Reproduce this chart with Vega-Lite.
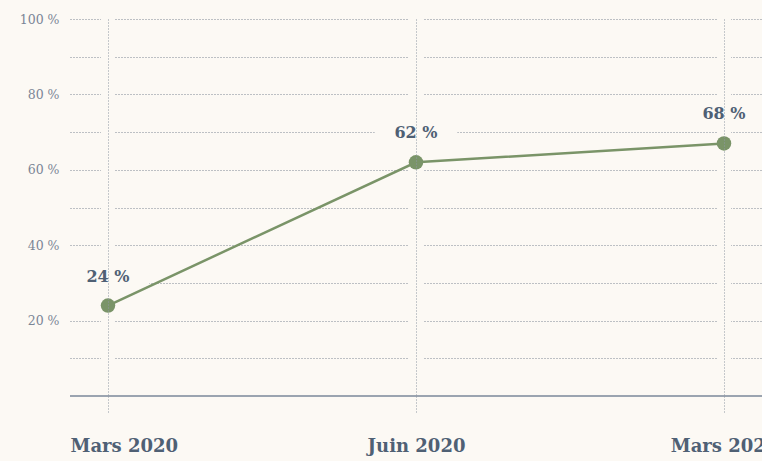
{
  "$schema": "https://vega.github.io/schema/vega-lite/v6.json",
  "width": 692,
  "height": 377,
  "autosize": {"type": "none"},
  "padding": {"left": 70, "top": 19, "right": 0, "bottom": 65},
  "background": "#fcf9f4",
  "config": {"view": {"stroke": null}},
  "data": {
    "values": [
      {"period": "Mars 2020", "value": 24, "label": "24 %"},
      {"period": "Juin 2020", "value": 62, "label": "62 %"},
      {"period": "Mars 2021", "value": 67, "label": "68 %"}
    ]
  },
  "encoding": {
    "x": {
      "field": "period",
      "type": "ordinal",
      "sort": null,
      "scale": {"type": "point", "padding": 0.1234},
      "axis": {
        "title": null,
        "labelAngle": 0,
        "domain": false,
        "grid": true,
        "gridColor": "#8e97a3",
        "gridDash": [1, 2],
        "gridWidth": 1,
        "ticks": true,
        "tickSize": 16,
        "tickColor": "#8e97a3",
        "tickDash": [1, 2],
        "tickWidth": 1,
        "zindex": 1,
        "labelFont": "DejaVu Serif",
        "labelFontWeight": "bold",
        "labelFontSize": 18,
        "labelColor": "#4f6074",
        "labelPadding": 25,
        "labelAlign": {"condition": {"test": "datum.value == 'Mars 2020'", "value": "left"}, "value": "center"},
        "labelOffset": {"condition": {"test": "datum.value == 'Mars 2020'", "value": -38}, "value": 0}
      }
    }
  },
  "layer": [
    {
      "mark": {"type": "rule", "color": "#fcf9f4", "strokeWidth": 14, "strokeCap": "butt"},
      "encoding": {
        "y": {
          "datum": 101,
          "type": "quantitative",
          "scale": {"domain": [0, 100], "nice": false},
          "axis": {
            "title": null,
            "values": [10, 20, 30, 40, 50, 60, 70, 80, 90, 100],
            "domain": false,
            "ticks": false,
            "grid": true,
            "gridColor": "#7e8794",
            "gridWidth": 1,
            "gridDash": [1, 2],
            "labelExpr": "datum.value % 20 == 0 ? datum.value + ' %' : ''",
            "labelFont": "DejaVu Serif",
            "labelFontSize": 12.5,
            "labelColor": "#7b8596",
            "labelPadding": 11
          }
        },
        "y2": {"datum": 1}
      }
    },
    {
      "mark": {"type": "rule", "color": "#9ba4b0", "strokeWidth": 2},
      "encoding": {"y": {"datum": 0, "type": "quantitative"}, "x": {"value": 0}, "x2": {"value": 692}}
    },
    {
      "mark": {
        "type": "point",
        "shape": "M-1,-0.33H1V0.33H-1Z",
        "filled": true,
        "fill": "#fcf9f4",
        "opacity": 1,
        "strokeWidth": 0,
        "size": 6800,
        "yOffset": -29
      },
      "encoding": {"y": {"field": "value", "type": "quantitative"}}
    },
    {
      "mark": {"type": "line", "color": "#7a9468", "strokeWidth": 2.5},
      "encoding": {"y": {"field": "value", "type": "quantitative"}}
    },
    {
      "mark": {"type": "circle", "color": "#7a9468", "opacity": 1, "size": 210},
      "encoding": {"y": {"field": "value", "type": "quantitative"}}
    },
    {
      "mark": {
        "type": "text",
        "font": "DejaVu Serif",
        "fontWeight": "bold",
        "fontSize": 16,
        "color": "#4f6074",
        "baseline": "middle",
        "dy": -29
      },
      "encoding": {
        "y": {"field": "value", "type": "quantitative"},
        "text": {"field": "label"}
      }
    }
  ]
}
